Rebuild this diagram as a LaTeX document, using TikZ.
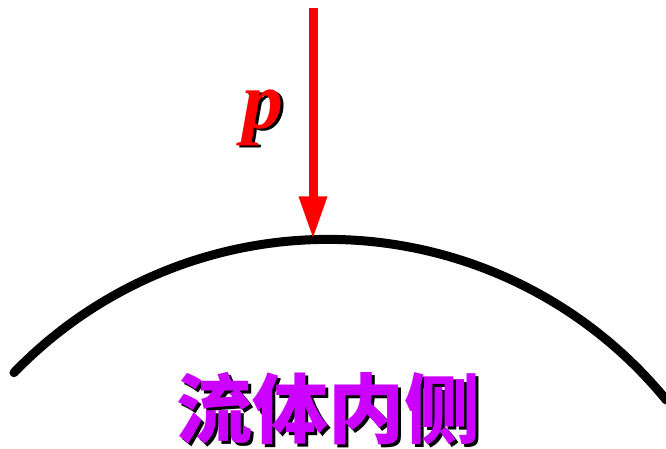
\documentclass[tikz,border=0pt]{standalone}
\usepackage{fontspec}
\setmainfont{Liberation Serif}
\newfontfamily\cjkfont{Noto Sans CJK SC}
\usepackage{xcolor}
\definecolor{loadred}{HTML}{FF0000}
\definecolor{fluidpurple}{HTML}{CC00FF}
\usetikzlibrary{arrows.meta}

\begin{document}
\begin{tikzpicture}[x=1pt, y=1pt,
  symbol/.style={inner sep=0pt, font=\fontsize{82}{82}\selectfont\bfseries\itshape},
  cjklabel/.style={inner sep=0pt, font=\cjkfont\fontsize{76}{76}\selectfont\bfseries}]
\useasboundingbox (0,0) rectangle (666,449);

% Curved wall
\draw[line width=9pt, line cap=round] (328,-227) ++(136:436.6) coordinate (wallL)
  arc[start angle=136, end angle=39.2, radius=436.6] coordinate (wallR);
\coordinate (crest) at (313,209.5);

% Pressure load
\coordinate (loadtop) at (313,441);
\draw[-{Triangle[length=43pt, width=26pt]}, line width=9pt, color=loadred] (loadtop) -- (crest);
\node[symbol, color=black] (pshadow) at (266,329) {p};
\node[symbol, color=loadred] (plabel) at (263,331) {p};

% Fluid side
\node[cjklabel, color=black] (fluidshadow) at (331,37) {流体内侧};
\node[cjklabel, color=fluidpurple] (fluid) at (328,40) {流体内侧};
\end{tikzpicture}
\end{document}
